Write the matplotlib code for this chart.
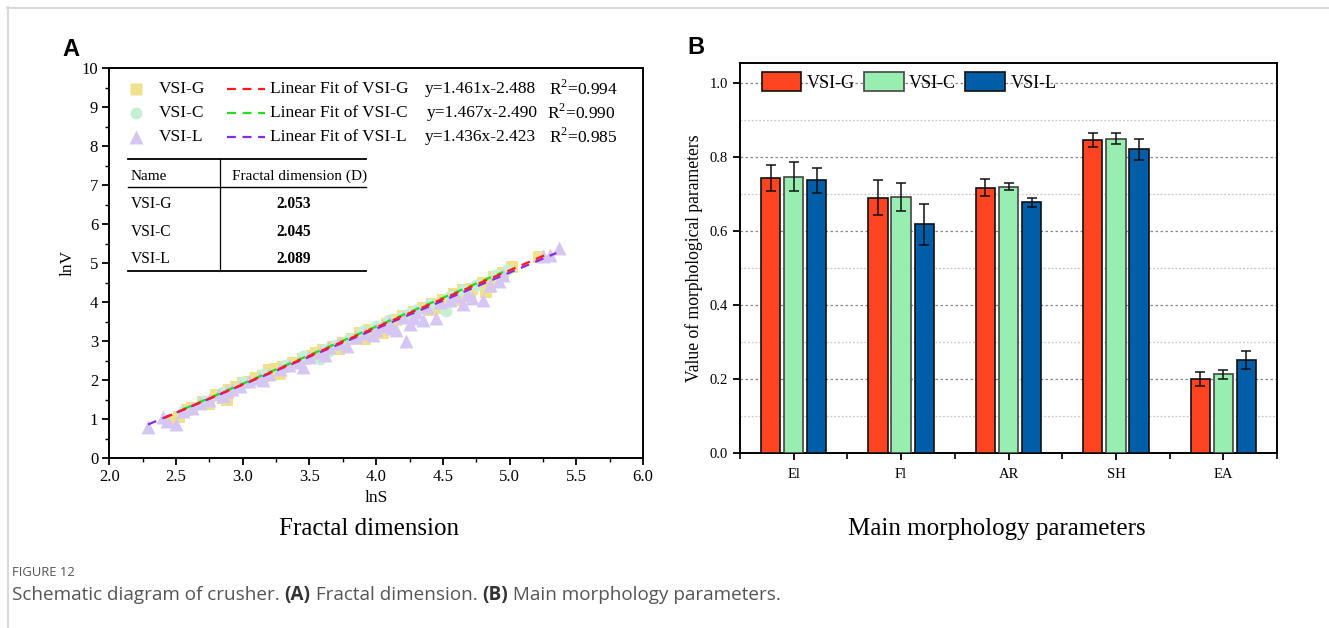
import matplotlib
matplotlib.use("Agg")
import matplotlib.pyplot as plt
from matplotlib.lines import Line2D
from matplotlib.ticker import MultipleLocator, FormatStrFormatter
import numpy as np

plt.rcParams['font.family'] = ['Liberation Serif', 'DejaVu Serif']
plt.rcParams['mathtext.fontset'] = 'custom'
plt.rcParams['mathtext.rm'] = 'Liberation Serif'

# ---------------- data: panel A ----------------
g_lnS = [2.45, 2.52, 2.58, 2.62, 2.70, 2.75, 2.80, 2.85, 2.90, 2.95, 3.00, 3.05, 3.10, 3.15, 3.20,
         3.25, 3.30, 3.38, 3.45, 3.52, 3.60, 3.68, 3.75, 3.82, 3.88, 3.95, 4.02, 4.08, 4.15, 4.20,
         4.28, 4.35, 4.42, 4.50, 4.58, 4.65, 4.72, 4.80, 4.85, 4.88, 4.95, 5.02, 5.22, 3.92, 4.05,
         4.48, 4.62, 4.82, 3.28, 2.88, 3.55, 3.72, 4.25, 4.40, 4.70]
g_lnV = [0.95, 1.05, 1.25, 1.30, 1.45, 1.40, 1.62, 1.55, 1.75, 1.82, 1.92, 1.95, 2.05, 2.10, 2.25,
         2.30, 2.35, 2.45, 2.55, 2.62, 2.78, 2.85, 2.95, 3.05, 3.20, 3.28, 3.35, 3.45, 3.55, 3.65,
         3.75, 3.85, 3.95, 4.05, 4.20, 4.30, 4.35, 4.50, 4.40, 4.65, 4.75, 4.90, 5.15, 3.05, 3.20,
         3.85, 4.05, 4.25, 2.15, 1.50, 2.70, 2.80, 3.60, 3.80, 4.15]
c_lnS = [2.55, 2.70, 2.85, 3.00, 3.15, 3.32, 3.45, 3.58, 3.62, 3.70, 3.80, 3.90, 4.00, 4.10, 4.20,
         4.30, 4.40, 4.52, 4.55, 4.65, 4.75, 4.90, 4.98, 3.65, 4.25]
c_lnV = [1.20, 1.48, 1.70, 1.95, 2.15, 2.40, 2.62, 2.55, 2.80, 2.90, 3.05, 3.25, 3.40, 3.55, 3.65,
         3.80, 3.95, 3.78, 4.15, 4.30, 4.45, 4.70, 4.82, 2.75, 3.72]
l_lnS = [2.29, 2.40, 2.43, 2.50, 2.55, 2.62, 2.68, 2.75, 2.82, 2.88, 2.92, 2.98, 3.05, 3.12, 3.20,
         3.28, 3.35, 3.42, 3.50, 3.58, 3.65, 3.72, 3.78, 3.85, 3.92, 4.00, 4.05, 4.10, 4.15, 4.20,
         4.22, 4.25, 4.30, 4.35, 4.38, 4.45, 4.48, 4.55, 4.60, 4.65, 4.68, 4.72, 4.80, 4.85, 4.92,
         4.95, 5.25, 5.30, 5.37, 3.45, 2.85, 3.15, 4.12, 3.62, 3.98, 4.28]
l_lnV = [0.80, 1.05, 0.95, 0.88, 1.20, 1.30, 1.42, 1.50, 1.65, 1.72, 1.78, 1.85, 1.98, 2.05, 2.15,
         2.28, 2.40, 2.48, 2.60, 2.72, 2.85, 2.95, 2.88, 3.10, 3.20, 3.30, 3.38, 3.50, 3.30, 3.62,
         3.00, 3.45, 3.75, 3.55, 3.88, 3.60, 4.00, 4.05, 4.15, 3.95, 4.20, 4.10, 4.05, 4.45, 4.55,
         4.70, 5.18, 5.22, 5.40, 2.35, 1.60, 2.00, 3.35, 2.65, 3.15, 3.60]

series_names = ["VSI-G", "VSI-C", "VSI-L"]
fit_slopes = [1.461, 1.467, 1.436]
fit_intercepts = [-2.488, -2.490, -2.423]
fit_r2 = ["0.994", "0.990", "0.985"]
fit_ranges = [(2.41, 5.27), (2.55, 4.95), (2.29, 5.35)]
fractal_D = ["2.053", "2.045", "2.089"]

# ---------------- data: panel B ----------------
categories = ["El", "Fl", "AR", "SH", "EA"]
vsi_g = [0.744, 0.690, 0.717, 0.847, 0.200]
vsi_g_err = [0.035, 0.048, 0.023, 0.019, 0.019]
vsi_c = [0.747, 0.692, 0.720, 0.849, 0.213]
vsi_c_err = [0.039, 0.039, 0.010, 0.015, 0.0125]
vsi_l = [0.737, 0.618, 0.677, 0.821, 0.252]
vsi_l_err = [0.034, 0.055, 0.011, 0.028, 0.025]

W, H = 1329, 628
fig = plt.figure(figsize=(W / 100, H / 100), dpi=100)

def px_rect(l, t, r, b):
    return [l / W, 1 - b / H, (r - l) / W, (b - t) / H]

# --------- Panel A ---------
A_L, A_T, A_R, A_B = 109.3, 68, 643, 458.3
axA = fig.add_axes(px_rect(A_L, A_T, A_R, A_B))
def fx(px):
    return (px - A_L) / (A_R - A_L)
def fy(py):
    return (A_B - py) / (A_B - A_T)

sc_colors = ["#F0E18C", "#C6EFD5", "#D6C6F4"]
line_colors = ["#FF1A1A", "#22DD22", "#8A2BE2"]
axA.scatter(g_lnS, g_lnV, marker='s', s=72, color=sc_colors[0], linewidths=0, zorder=2)
axA.scatter(c_lnS, c_lnV, marker='o', s=72, color=sc_colors[1], linewidths=0, zorder=3)
axA.scatter(l_lnS, l_lnV, marker='^', s=100, color=sc_colors[2], linewidths=0, zorder=4)
for k in [2, 1, 0]:
    xs = np.linspace(fit_ranges[k][0], fit_ranges[k][1], 50)
    axA.plot(xs, fit_slopes[k] * xs + fit_intercepts[k], ls=(0, (4, 3)), lw=1.6,
             color=line_colors[k], zorder=5)
axA.set_xlim(2.0, 6.0)
axA.set_ylim(0, 10)
axA.xaxis.set_major_locator(MultipleLocator(0.5))
axA.xaxis.set_minor_locator(MultipleLocator(0.25))
axA.yaxis.set_major_locator(MultipleLocator(1))
axA.yaxis.set_minor_locator(MultipleLocator(0.5))
axA.tick_params(which='major', direction='out', length=5, width=1.3, labelsize=12, pad=3)
axA.tick_params(which='minor', direction='out', length=3, width=1.0)
for sp in axA.spines.values():
    sp.set_linewidth(1.4)
axA.set_xlabel("lnS", fontsize=12.5, labelpad=3)
axA.set_ylabel("lnV", fontsize=12.5, labelpad=4)

# legend-like annotation rows
row_y = [fy(89.3), fy(112.7), fy(136.7)]
markers = ['s', 'o', '^']
msizes = [8.5, 8.5, 10]
eq_x = [424.6, 427, 425]
r2_x = [548.7, 547, 548.7]
for k in range(3):
    y = row_y[k]
    axA.plot([fx(135.7)], [y], marker=markers[k], ms=msizes[k], color=sc_colors[k], ls='none',
             transform=axA.transAxes, clip_on=False, mec='none')
    axA.text(fx(159), y, series_names[k], transform=axA.transAxes, fontsize=12.5, va='center')
    axA.plot([fx(227), fx(265)], [y, y], ls=(0, (4, 3)), lw=1.6, color=line_colors[k],
             transform=axA.transAxes)
    axA.text(fx(269.8), y, "Linear Fit of " + series_names[k], transform=axA.transAxes,
             fontsize=12.5, va='center')
    eq = "y=%.3fx%.3f" % (fit_slopes[k], fit_intercepts[k])
    axA.text(fx(eq_x[k]), y, eq, transform=axA.transAxes, fontsize=12.5, va='center')
    axA.text(fx(r2_x[k]), y, "R$^2$=" + fit_r2[k], transform=axA.transAxes,
             fontsize=12.5, va='center')

# table
tl, tr, tv = fx(127.9), fx(365.6), fx(219.8)
t_top, t_head, t_bot = fy(159), fy(187), fy(270.7)
axA.plot([tl, tr], [t_top, t_top], color='k', lw=1.3, transform=axA.transAxes)
axA.plot([tl, tr], [t_head, t_head], color='k', lw=1.0, transform=axA.transAxes)
axA.plot([tl, tr], [t_bot, t_bot], color='k', lw=1.3, transform=axA.transAxes)
axA.plot([tv, tv], [t_bot, t_top], color='k', lw=0.9, transform=axA.transAxes)
axA.text(fx(130.4), fy(176.7), "Name", transform=axA.transAxes, fontsize=11, va='center')
axA.text(fx(232), fy(176.7), "Fractal dimension (D)", transform=axA.transAxes, fontsize=11,
         va='center', ha='left')
for k, yy in enumerate([204, 232.3, 259]):
    axA.text(fx(130.4), fy(yy), series_names[k], transform=axA.transAxes, fontsize=11.2,
             va='center')
    axA.text(fx(294), fy(yy), fractal_D[k], transform=axA.transAxes, fontsize=11.2,
             va='center', ha='center', fontweight='bold')

# --------- Panel B ---------
B_L, B_T, B_R, B_B = 740, 63, 1277, 453
axB = fig.add_axes(px_rect(B_L, B_T, B_R, B_B))
x = np.arange(len(categories))
bw = 0.18
off = 0.215
bar_cols = ["#FF4422", "#98EDB1", "#005EA8"]
edge_cols = ["#111111", "#444444", "#111111"]
vals = [vsi_g, vsi_c, vsi_l]
errs = [vsi_g_err, vsi_c_err, vsi_l_err]
for k in range(3):
    axB.bar(x + (k - 1) * off, vals[k], width=bw, color=bar_cols[k], edgecolor=edge_cols[k],
            linewidth=1.2, label=series_names[k], zorder=3,
            yerr=errs[k], error_kw=dict(ecolor='#111111', elinewidth=1.1, capsize=3.5,
                                        capthick=1.1, zorder=4))
axB.set_xlim(-0.5, 4.5)
axB.set_ylim(0, 1.054)
axB.set_xticks(x)
axB.set_xticklabels(categories)
axB.set_xticks(np.arange(-0.5, 4.6, 1.0), minor=True)
axB.yaxis.set_major_locator(MultipleLocator(0.2))
axB.yaxis.set_minor_locator(MultipleLocator(0.1))
axB.tick_params(which='major', direction='out', length=5, width=1.3, labelsize=10.5)
axB.tick_params(axis='x', which='major', pad=6)
axB.tick_params(axis='x', which='minor', direction='out', length=4, width=1.2)
axB.tick_params(axis='y', which='minor', length=0)
axB.yaxis.set_major_formatter(FormatStrFormatter('%.1f'))
axB.grid(axis='y', which='major', color='#888888', ls=(0, (2, 2)), lw=0.9, zorder=0)
axB.grid(axis='y', which='minor', color='#C8C8C8', ls=(0, (1.5, 1.5)), lw=0.9, zorder=0)
axB.set_axisbelow(True)
for sp in axB.spines.values():
    sp.set_linewidth(1.4)
axB.set_ylabel("Value of morphological parameters", fontsize=12.7, labelpad=5)
leg = axB.legend(ncol=3, loc='center left',
                 bbox_to_anchor=((761.7 - B_L) / (B_R - B_L), (B_B - 81.7) / (B_B - B_T)),
                 frameon=False, fontsize=13, handlelength=2.2, handleheight=1.25,
                 columnspacing=0.5, handletextpad=0.3, borderaxespad=0, borderpad=0)

# --------- titles and labels ---------
fig.text(369 / W, 1 - 529 / H, "Fractal dimension", fontsize=18, ha='center', va='center')
fig.text(997 / W, 1 - 529 / H, "Main morphology parameters", fontsize=18, ha='center', va='center')
fig.text(71 / W, 1 - 50 / H, "A", fontsize=17, fontweight='bold', family='Liberation Sans',
         ha='center', va='center')
fig.text(696 / W, 1 - 48 / H, "B", fontsize=17, fontweight='bold', family='Liberation Sans',
         ha='center', va='center')

# border lines
fig.add_artist(Line2D([7 / W, 1], [1 - 7.5 / H, 1 - 7.5 / H], color='#D9D9D9', lw=1.5))
fig.add_artist(Line2D([7.5 / W, 7.5 / W], [0, 1 - 7 / H], color='#D9D9D9', lw=1.5))

# caption
fig.text(12 / W, 1 - 573 / H, "FIGURE 12", fontsize=9.4, family='Open Sans', color='#555555',
         va='center')
pieces = [("Schematic diagram of crusher. ", 'normal', '#555555'), ("(A)", 'bold', '#333333'),
          (" Fractal dimension. ", 'normal', '#555555'), ("(B)", 'bold', '#333333'),
          (" Main morphology parameters.", 'normal', '#555555')]
fig.canvas.draw()
renderer = fig.canvas.get_renderer()
xpos = 12
for txt, wt, col in pieces:
    t = fig.text(xpos / W, 1 - 595 / H, txt, fontsize=13.6, family='Open Sans', color=col,
                 fontweight=wt, va='center')
    bb = t.get_window_extent(renderer=renderer)
    xpos += bb.width

fig.savefig("out.png", dpi=100)
